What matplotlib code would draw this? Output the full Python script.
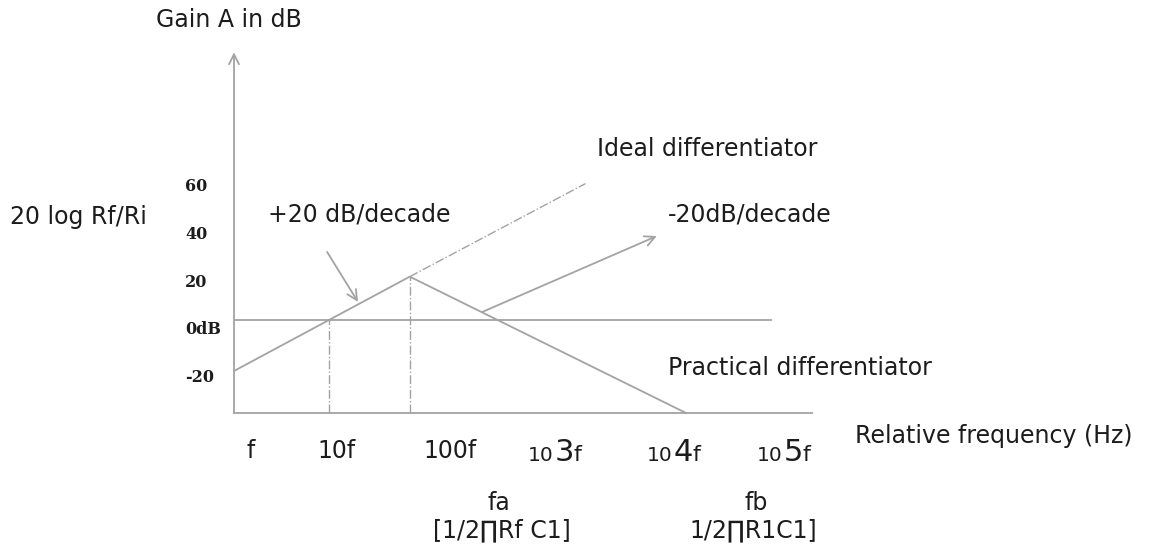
import matplotlib.pyplot as plt

# x = decades from f, y = gain in dB (schematic Bode plot)
practical_x = [0.0, 1.85, 4.76]
practical_y = [-20, 17, -36.5]
ideal_x = [1.85, 3.70]
ideal_y = [17, 53.5]
zero_line_x = [0.0, 5.65]
base_x = [0.0, 6.08]
base_db = -36.5
axis_top_db = 105
drop_x = [1.0, 1.85]
drop_top = [0, 17]

ytick_labels = ["60", "40", "20", "0dB", "-20"]
ytick_pos = [52.5, 33.7, 14.9, -3.9, -22.7]

xtick_simple = ["f", "10f", "100f"]
xtick_simple_pos = [0.18, 1.08, 2.27]
xtick_pow = ["3", "4", "5"]
xtick_pow_pos = [3.095, 4.347, 5.505]

gray = "#a3a3a3"
txt = "#1c1c1c"
plt.rcParams['font.family'] = ['DejaVu Sans']

fig = plt.figure(figsize=(11.5, 5.49), dpi=100)
ax = fig.add_axes([0, 0, 1, 1])
ax.set_xlim(-234 / 95, (1150 - 234) / 95)
ax.set_ylim((320 - 549) / 2.55, 320 / 2.55)
ax.axis("off")

# axes of the diagram
ax.annotate("", xy=(0, axis_top_db), xytext=(0, base_db),
            arrowprops=dict(arrowstyle="->", color=gray, lw=1.3,
                            mutation_scale=18, shrinkA=0, shrinkB=0))
ax.plot(base_x, [base_db, base_db], color=gray, lw=1.3)
ax.plot(zero_line_x, [0, 0], color=gray, lw=1.3)

# responses
ax.plot(practical_x, practical_y, color=gray, lw=1.3)
ax.plot(ideal_x, ideal_y, color=gray, lw=1.0, ls="-.")
for xd, yt in zip(drop_x, drop_top):
    ax.plot([xd, xd], [base_db, yt], color=gray, lw=1.0, ls="-.")

# slope arrows
arrow = dict(arrowstyle="->", color=gray, lw=1.3, mutation_scale=18,
             shrinkA=0, shrinkB=0)
ax.annotate("", xy=(1.305, 7.1), xytext=(0.98, 26.7), arrowprops=arrow)
ax.annotate("", xy=(4.45, 32.9), xytext=(2.61, 3.1), arrowprops=arrow)

# y tick labels
for lab, yp in zip(ytick_labels, ytick_pos):
    ax.text(-0.516, yp, lab, ha="left", va="center", fontsize=11.5,
            fontweight="bold", family="DejaVu Serif", color=txt)

# x tick labels
for lab, xp in zip(xtick_simple, xtick_simple_pos):
    ax.text(xp, -51.4, lab, ha="center", va="center", fontsize=17, color=txt)
for p, xp in zip(xtick_pow, xtick_pow_pos):
    t1 = ax.text(xp, -53.0, "10", ha="left", va="center", fontsize=14.5, color=txt)
    t2 = ax.annotate(p, xy=(1, 0), xycoords=t1, xytext=(0.5, -1.5),
                     textcoords="offset points", ha="left", va="bottom",
                     fontsize=22, color=txt)
    ax.annotate("f", xy=(1, 0), xycoords=t2, xytext=(0, 1.5),
                textcoords="offset points", ha="left", va="bottom",
                fontsize=16, color=txt)

fs = 17
ax.text(-0.05, 117.6, "Gain A in dB", ha="center", va="center", fontsize=fs, color=txt)
ax.text(-2.358, 40.4, "20 log Rf/Ri", ha="left", va="center", fontsize=fs, color=txt)
ax.text(0.358, 41.2, "+20 dB/decade", ha="left", va="center", fontsize=fs, color=txt)
ax.text(3.82, 67.1, "Ideal differentiator", ha="left", va="center", fontsize=fs, color=txt)
ax.text(4.568, 41.2, "-20dB/decade", ha="left", va="center", fontsize=fs, color=txt)
ax.text(4.568, -18.8, "Practical differentiator", ha="left", va="center", fontsize=fs, color=txt)
ax.text(6.537, -45.3, "Relative frequency (Hz)", ha="left", va="center", fontsize=fs, color=txt)
ax.text(2.79, -71.8, "fa", ha="center", va="center", fontsize=fs, color=txt)
ax.text(2.82, -82.7, "[1/2∏Rf C1]", ha="center", va="center", fontsize=fs, color=txt)
ax.text(5.50, -71.8, "fb", ha="center", va="center", fontsize=fs, color=txt)
ax.text(5.47, -82.7, "1/2∏R1C1]", ha="center", va="center", fontsize=fs, color=txt)

fig.savefig("out.png", dpi=100, facecolor="white")
